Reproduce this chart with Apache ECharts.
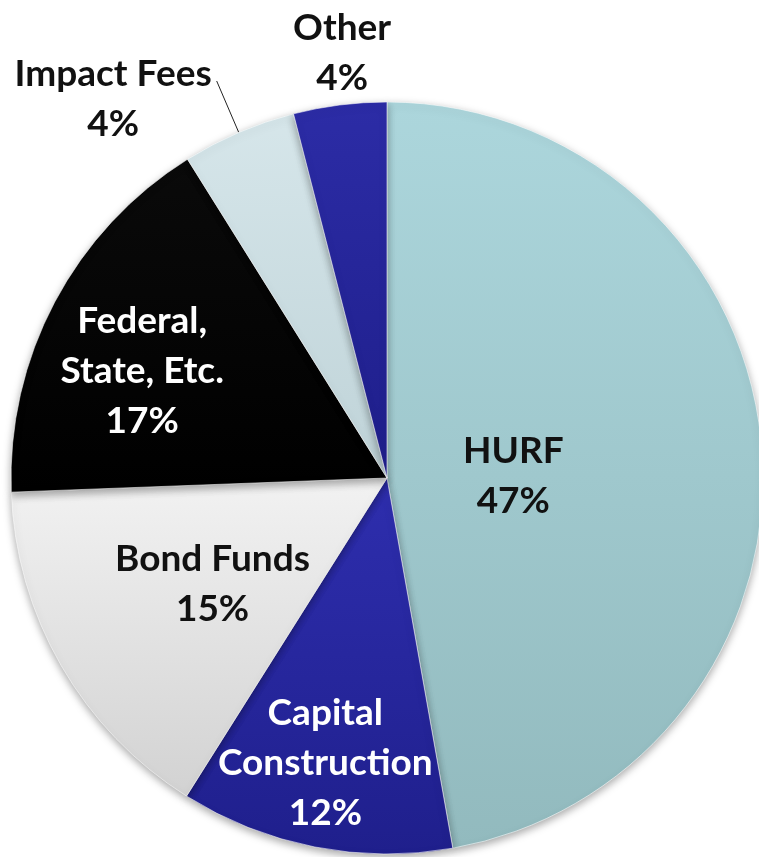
<!DOCTYPE html>
<html>
<head>
<meta charset="utf-8">
<script src="https://cdn.jsdelivr.net/npm/echarts@6/dist/echarts.min.js"></script>
<style>html,body{margin:0;padding:0;background:#fff;}#c{width:759px;height:857px;}</style>
</head>
<body>
<div id="c"></div>
<script>
const categories = ["HURF", "Capital\nConstruction", "Bond Funds", "Federal,\nState, Etc.", "Impact Fees", "Other"];
const values = [47.2, 11.75, 15.45, 16.7, 4.9, 4.0];
const pctLabels = ["47%", "12%", "15%", "17%", "4%", "4%"];

const colors = [
  ['#acd6dc', '#92babe'],
  ['#2e2eae', '#1f1f8c'],
  ['#f2f2f2', '#d2d2d2'],
  ['#0a0a0a', '#000000'],
  ['#d6e6ea', '#bfd3d8'],
  ['#2c2ca6', '#1e1e8a']
];
const labelOpts = [
  { position: 'inside', offset: [-64, 15] },
  { position: 'inside', offset: [-25, 98], color: '#ffffff' },
  { position: 'inside', offset: [-9, 11] },
  { position: 'inside', offset: [-76, -18], color: '#ffffff' },
  { position: 'outside', offset: [0, 18] },
  { position: 'inside', offset: [-21, -235] }
];

const data = categories.map((name, i) => ({
  name: name,
  value: values[i],
  itemStyle: {
    color: new echarts.graphic.LinearGradient(0, 0, 0, 1, [
      { offset: 0, color: colors[i][0] },
      { offset: 1, color: colors[i][1] }
    ])
  },
  label: labelOpts[i],
  labelLine: { show: i === 4, length: 56, length2: 0, lineStyle: { color: '#222', width: 1 } }
}));

const chart = echarts.init(document.getElementById('c'), null, { renderer: 'canvas' });
chart.setOption({
  animation: false,
  series: [{
    type: 'pie',
    center: [387, 478],
    radius: [0, 376],
    startAngle: 90,
    clockwise: true,
    avoidLabelOverlap: false,
    itemStyle: {
      borderColor: 'rgba(255,255,255,0.55)',
      borderWidth: 1,
      shadowBlur: 8,
      shadowColor: 'rgba(0,0,0,0.35)',
      shadowOffsetY: 3
    },
    emphasis: { disabled: true },
    label: {
      show: true,
      color: '#111111',
      fontFamily: 'Lato',
      fontWeight: 'bold',
      fontSize: 37,
      lineHeight: 50,
      formatter: function (p) {
        const lines = (p.name + '\n' + pctLabels[p.dataIndex]).split('\n');
        return lines.map(l => '{c|' + l + '}').join('\n');
      },
      rich: {
        c: { align: 'center', fontFamily: 'Lato', fontWeight: 'bold', fontSize: 37, lineHeight: 50 }
      }
    },
    data: data
  }]
});
</script>
</body>
</html>
